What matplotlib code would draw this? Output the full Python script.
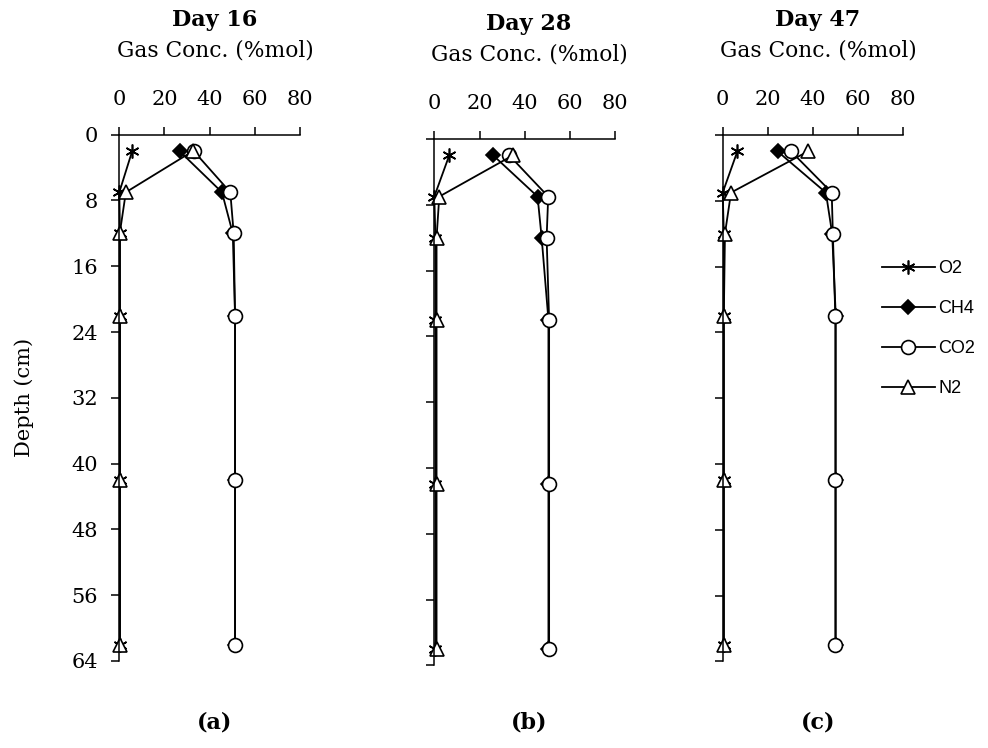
import matplotlib
matplotlib.use("Agg")
import matplotlib.pyplot as plt
from matplotlib.lines import Line2D

# Sampling depths (cm) and gas concentrations (%mol) per sampling day
depth = [2, 7, 12, 22, 42, 62]

o2_d16 = [5.7, 0.0, 0.3, 0.3, 0.3, 0.3]
ch4_d16 = [26.7, 45.5, 50.3, 51.3, 51.3, 51.3]
co2_d16 = [33.0, 49.2, 50.7, 51.3, 51.3, 51.3]
n2_d16 = [32.6, 2.9, 0.2, 0.3, 0.3, 0.3]

o2_d28 = [6.6, 0.0, 0.5, 0.5, 0.5, 0.5]
ch4_d28 = [26.1, 45.7, 47.5, 50.5, 50.5, 50.5]
co2_d28 = [33.2, 50.4, 49.7, 50.8, 50.8, 50.8]
n2_d28 = [34.7, 2.2, 1.0, 1.0, 1.0, 1.0]

o2_d47 = [6.5, 0.0, 0.5, 0.5, 0.5, 0.5]
ch4_d47 = [24.4, 45.8, 48.6, 50.2, 50.2, 50.2]
co2_d47 = [30.4, 48.4, 48.9, 50.0, 50.0, 50.0]
n2_d47 = [37.8, 3.7, 1.0, 0.5, 0.5, 0.5]

days = ["Day 16", "Day 28", "Day 47"]
panel_tags = ["(a)", "(b)", "(c)"]
gas_names = ["O2", "CH4", "CO2", "N2"]
x_ticks = [0, 20, 40, 60, 80]
y_ticks = [0, 8, 16, 24, 32, 40, 48, 56, 64]

panels = [
    [o2_d16, ch4_d16, co2_d16, n2_d16],
    [o2_d28, ch4_d28, co2_d28, n2_d28],
    [o2_d47, ch4_d47, co2_d47, n2_d47],
]

W, H = 988, 748
SERIF = "DejaVu Serif"
SANS = "Liberation Sans"

# marker style per gas: asterisk, filled diamond, open circle, open triangle
styles = [
    dict(marker=(6, 2, 0), markersize=10, markerfacecolor="black"),
    dict(marker="D", markersize=7.5, markerfacecolor="black"),
    dict(marker="o", markersize=10, markerfacecolor="white"),
    dict(marker="^", markersize=10, markerfacecolor="white"),
]

# axes boxes in pixels: left, top, width, height
boxes = [
    (119.3, 134.7, 180.5, 526.3),
    (434.3, 139.0, 180.8, 526.3),
    (722.7, 135.0, 180.2, 526.3),
]
title_x = [215, 529, 818]
title_dy = [0, 4, 0]

fig = plt.figure(figsize=(W / 100, H / 100), dpi=100)

for i, (l, t, w, h) in enumerate(boxes):
    ax = fig.add_axes([l / W, 1 - (t + h) / H, w / W, h / H])
    for vals, st in zip(panels[i], styles):
        ax.plot(vals, depth, color="black", linewidth=1.3,
                markeredgecolor="black", markeredgewidth=1.2,
                clip_on=False, **st)

    ax.set_xlim(0, 80)
    ax.set_ylim(64, 0)
    ax.xaxis.tick_top()
    ax.set_xticks(x_ticks)
    ax.set_yticks(y_ticks)
    ax.spines["right"].set_visible(False)
    ax.spines["bottom"].set_visible(False)
    for s in ("left", "top"):
        ax.spines[s].set_linewidth(1.1)
    ax.tick_params(axis="both", direction="out", length=5.5, width=1.1,
                   labelsize=15, colors="black")
    ax.tick_params(axis="x", pad=13)
    ax.tick_params(axis="y", pad=10)
    for lab in ax.get_xticklabels() + ax.get_yticklabels():
        lab.set_fontfamily(SERIF)
    if i == 0:
        ax.set_ylabel("Depth (cm)", fontsize=15, fontfamily=SERIF, labelpad=27)
    else:
        ax.set_yticklabels([])

    cx = title_x[i] / W
    fig.text(cx, 1 - (20 + title_dy[i]) / H, days[i], ha="center", va="center",
             fontsize=16, fontweight="bold", fontfamily=SERIF)
    fig.text(cx, 1 - (50 + title_dy[i]) / H, "Gas Conc. (%mol)", ha="center",
             va="center", fontsize=15.7, fontfamily=SERIF)
    fig.text(cx, 1 - 722 / H, panel_tags[i], ha="center", va="center",
             fontsize=16, fontweight="bold", fontfamily=SERIF)

handles = [Line2D([], [], color="black", linewidth=1.3, markeredgecolor="black",
                  markeredgewidth=1.2, **st) for st in styles]
fig.legend(handles, gas_names, loc="upper left",
           bbox_to_anchor=(866 / W, 1 - 244 / H), frameon=False,
           handlelength=2.9, handletextpad=0.2, labelspacing=1.27,
           prop={"family": SANS, "size": 13})

plt.savefig("out.png", dpi=100)
